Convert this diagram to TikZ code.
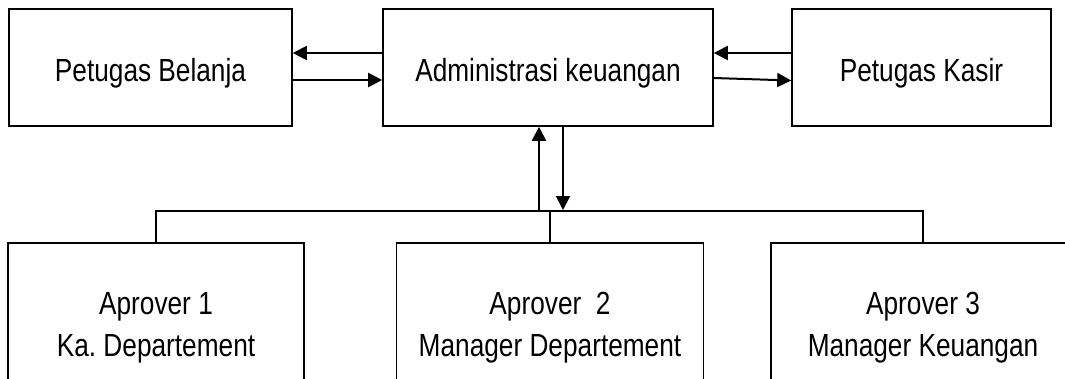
\documentclass[tikz,border=0pt]{standalone}
\usepackage{fontspec}
\setmainfont[FakeStretch=0.82]{Liberation Sans}
\usetikzlibrary{arrows.meta}

\begin{document}
\begin{tikzpicture}[x=1pt,y=-1pt,
  box/.style={draw,line width=1.6pt,inner sep=0pt,align=center,
    font=\fontsize{32}{42}\selectfont},
  topbox/.style={box,minimum height=117pt,text height=27pt,text depth=0pt},
  lowbox/.style={box,minimum height=170pt},
  arr/.style={line width=2pt,-{Triangle[length=14pt,width=14pt]}},
  bus/.style={line width=1.3pt}]
  \useasboundingbox (0,0) rectangle (1065,378);
  \clip (0,0) rectangle (1065,378);

  % upper row
  \node[topbox,minimum width=283pt] (bel) at (150.5,67.5) {Petugas Belanja};
  \node[topbox,minimum width=330pt] (adm) at (548,67.5) {Administrasi keuangan};
  \node[topbox,minimum width=259pt] (kas) at (921.5,67.5) {Petugas Kasir};

  % approvers
  \node[lowbox,minimum width=296pt] (ap1) at (156,328) {Aprover 1\\Ka.\ Departement};
  \node[lowbox,minimum width=307pt] (ap2) at (550,328) {Aprover~~2\\Manager Departement};
  \node[lowbox,minimum width=304pt] (ap3) at (923,328) {Aprover 3\\Manager Keuangan};

  \draw[arr] ([yshift=14.5pt]adm.west) -- ([yshift=14.5pt]bel.east);
  \draw[arr] ([yshift=-12.5pt]bel.east) -- ([yshift=-12.5pt]adm.west);
  \draw[arr] ([yshift=14.5pt]kas.west) -- ([yshift=14.5pt]adm.east);
  \draw[arr] ([yshift=-10.5pt]adm.east) -- ([yshift=-13pt]kas.west);

  \coordinate (bus) at (0,211);
  \coordinate (upx) at ([xshift=-9pt]adm.south);
  \coordinate (dnx) at ([xshift=15pt]adm.south);
  \draw[bus] (ap1.north) -- (ap1.north |- bus) -- (ap3.north |- bus) -- (ap3.north);
  \draw[bus] (ap2.north) -- (ap2.north |- bus);
  \draw[arr] (upx |- bus) -- (upx);
  \draw[arr] (dnx) -- ([yshift=1pt]dnx |- bus);
\end{tikzpicture}
\end{document}
